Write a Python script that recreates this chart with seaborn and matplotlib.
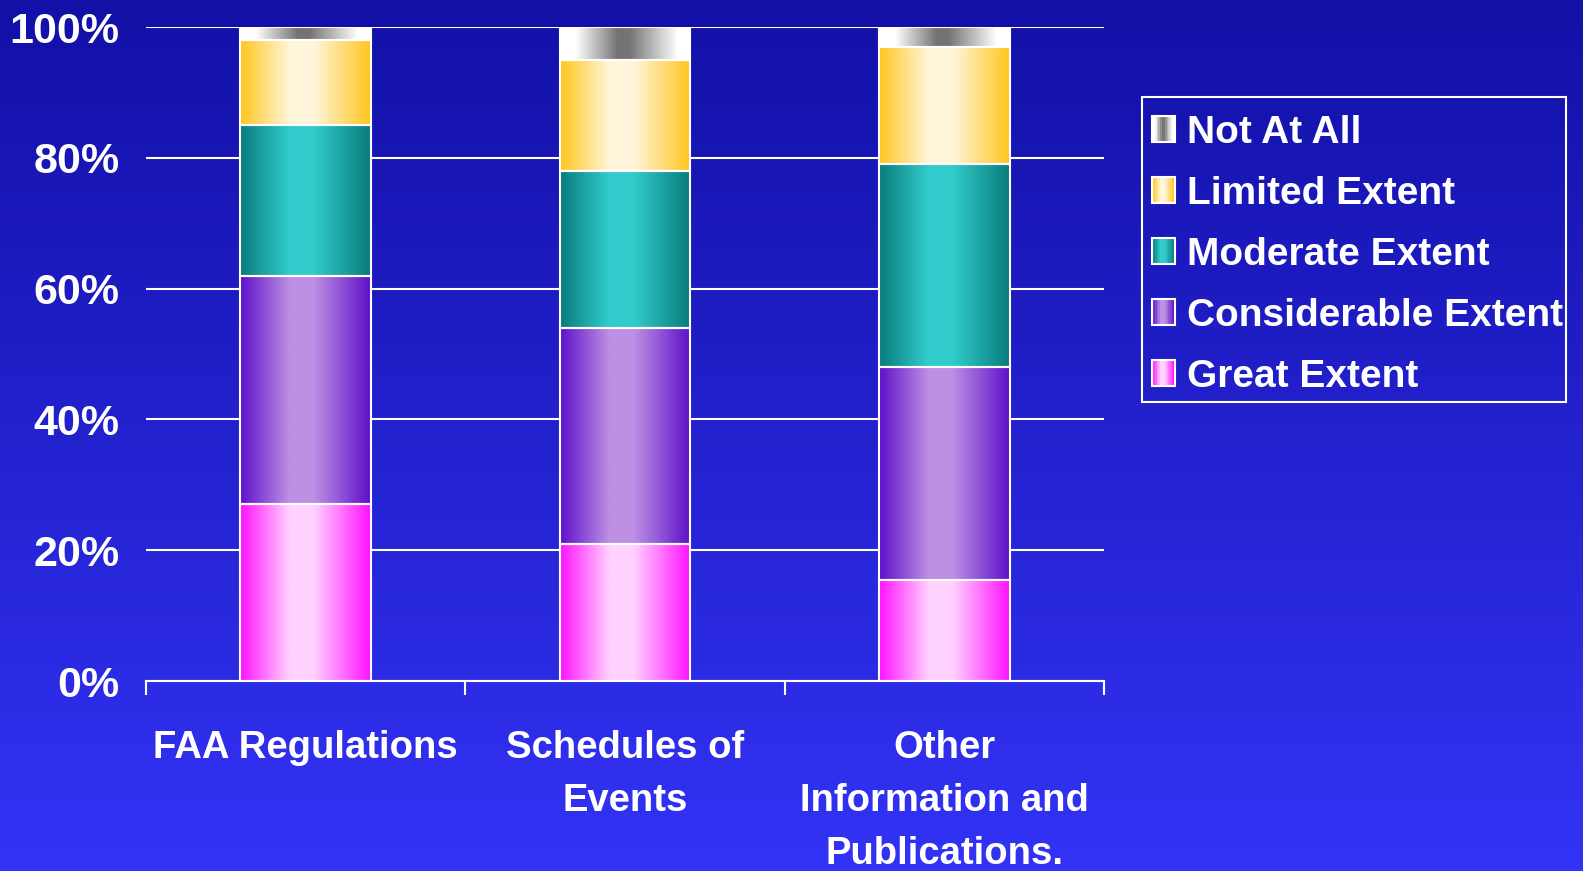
import numpy as np
import matplotlib
matplotlib.use("Agg")
import matplotlib.pyplot as plt
import seaborn as sns
from matplotlib.colors import to_rgb
from matplotlib.legend_handler import HandlerBase
from matplotlib.patches import Rectangle, Patch

# ---- data ----
categories = ["FAA Regulations", "Schedules of\nEvents", "Other\nInformation and\nPublications."]
series_names = ["Great Extent", "Considerable Extent", "Moderate Extent", "Limited Extent", "Not At All"]
great = [27, 21, 15.5]
considerable = [35, 33, 32.5]
moderate = [23, 24, 31]
limited = [13, 17, 18]
not_at_all = [2, 5, 3]
y_ticks = [0, 20, 40, 60, 80, 100]
y_tick_labels = ["0%", "20%", "40%", "60%", "80%", "100%"]

series_values = [great, considerable, moderate, limited, not_at_all]

# ---- styles: (edge colour, centre colour, shading profile) ----
styles = {
    "Great Extent": ("#ff12ff", "#ffd2ff", "tube"),
    "Considerable Extent": ("#5e10c8", "#bd90e4", "tube"),
    "Moderate Extent": ("#087c7c", "#33cccc", "tube"),
    "Limited Extent": ("#ffc61e", "#fff6dc", "tube"),
    "Not At All": ("#ffffff", "#747474", "narrow"),
}


def profile(kind, n=256):
    x = np.linspace(0, 1, n)
    if kind == "tube":
        w = np.interp(x, [0.0, 0.38, 0.56, 1.0], [0.0, 1.0, 1.0, 0.0])
    else:
        w = np.interp(x, [0.0, 0.12, 0.44, 0.53, 0.9, 1.0], [0.0, 0.0, 1.0, 1.0, 0.0, 0.0])
    return w


def strip(edge, centre, kind, n=256):
    w = profile(kind, n)[:, None]
    e = np.array(to_rgb(edge))
    c = np.array(to_rgb(centre))
    return (e * (1 - w) + c * w)[None, :, :]


class GradientHandler(HandlerBase):
    def __init__(self, edge, centre, kind):
        super().__init__()
        self.edge, self.centre, self.kind = edge, centre, kind

    def create_artists(self, legend, orig_handle, xdescent, ydescent,
                       width, height, fontsize, trans):
        n = 14
        cols = strip(self.edge, self.centre, self.kind, n)[0]
        x0, y0 = -xdescent, -ydescent
        arts = []
        for k in range(n):
            arts.append(Rectangle((x0 + k * width / n, y0), width / n + 0.3, height,
                                  facecolor=cols[k], edgecolor="none", transform=trans))
        arts.append(Rectangle((x0, y0), width, height, facecolor="none",
                              edgecolor="white", lw=1.5, transform=trans))
        return arts


sns.set_theme(style="white")
plt.rcParams["font.family"] = ["Liberation Sans", "DejaVu Sans"]

W, H = 1583, 871
fig = plt.figure(figsize=(W / 100, H / 100), dpi=100)

# vertical background gradient
bg = fig.add_axes([0, 0, 1, 1])
g = np.linspace(0, 1, 256)[:, None, None]
top_c = np.array(to_rgb("#1210a6"))
bot_c = np.array(to_rgb("#3333f6"))
bg.imshow(top_c * (1 - g) + bot_c * g, aspect="auto", extent=[0, 1, 0, 1])
bg.axis("off")

ax = fig.add_axes([146 / W, 190 / H, (1104 - 146) / W, (681 - 27) / H])
ax.patch.set_alpha(0)

bottoms = np.zeros(len(categories))
for name, vals in zip(series_names, series_values):
    edge, centre, kind = styles[name]
    n0 = len(ax.patches)
    sns.barplot(x=categories, y=vals, order=categories, width=0.41, color=centre,
                errorbar=None, ax=ax, zorder=2)
    img = strip(edge, centre, kind)
    for patch, b, v in zip(ax.patches[n0:], bottoms, vals):
        patch.set_y(b)
        x0, w = patch.get_x(), patch.get_width()
        ax.imshow(img, extent=(x0, x0 + w, b, b + v), aspect="auto",
                  interpolation="bilinear", zorder=1.5)
        patch.set_facecolor("none")
        patch.set_edgecolor("white")
        patch.set_linewidth(1.5)
    bottoms += np.array(vals)

ax.set_xlim(-0.5, len(categories) - 0.5)
ax.set_ylim(0, 100)
ax.set_xlabel("")
ax.set_ylabel("")

ax.set_yticks(y_ticks, labels=y_tick_labels)
ax.yaxis.grid(True, color="white", lw=1.5)
ax.xaxis.grid(False)
ax.set_axisbelow(True)

ax.tick_params(axis="y", length=0, pad=19, labelsize=31, labelcolor="white")
ax.tick_params(axis="x", which="major", length=0, pad=35.5, labelsize=27.5, labelcolor="white")
ax.set_xticks(np.arange(-0.5, len(categories)), minor=True)
ax.tick_params(axis="x", which="minor", bottom=True, length=10, width=1.5,
               color="white", direction="out")

for lab in ax.get_xticklabels() + ax.get_yticklabels():
    lab.set_fontweight("bold")
for lab in ax.get_xticklabels():
    lab.set_linespacing(1.6)

for side in ("left", "top", "right"):
    ax.spines[side].set_visible(False)
ax.spines["bottom"].set_color("white")
ax.spines["bottom"].set_linewidth(1.5)

# legend with shaded swatches, top entry first
handles, hmap = [], {}
for name in series_names[::-1]:
    edge, centre, kind = styles[name]
    p = Patch(label=name)
    handles.append(p)
    hmap[p] = GradientHandler(edge, centre, kind)

leg = fig.legend(handles=handles, handler_map=hmap, loc="upper left",
                 bbox_to_anchor=(1151.5 / W, 1 - 115 / H), bbox_transform=fig.transFigure,
                 borderaxespad=0, prop={"weight": "bold", "size": 28},
                 frameon=False, handlelength=0.6, handleheight=0.66,
                 handletextpad=0.32, borderpad=0, labelspacing=0.64)
for t in leg.get_texts():
    t.set_color("white")

# legend box
fig.patches.append(Rectangle((1142 / W, 1 - 402 / H), (1566 - 1142) / W, (402 - 97) / H,
                             transform=fig.transFigure, fill=False, edgecolor="white",
                             linewidth=1.5, zorder=5))

fig.savefig("out.png", dpi=100)
